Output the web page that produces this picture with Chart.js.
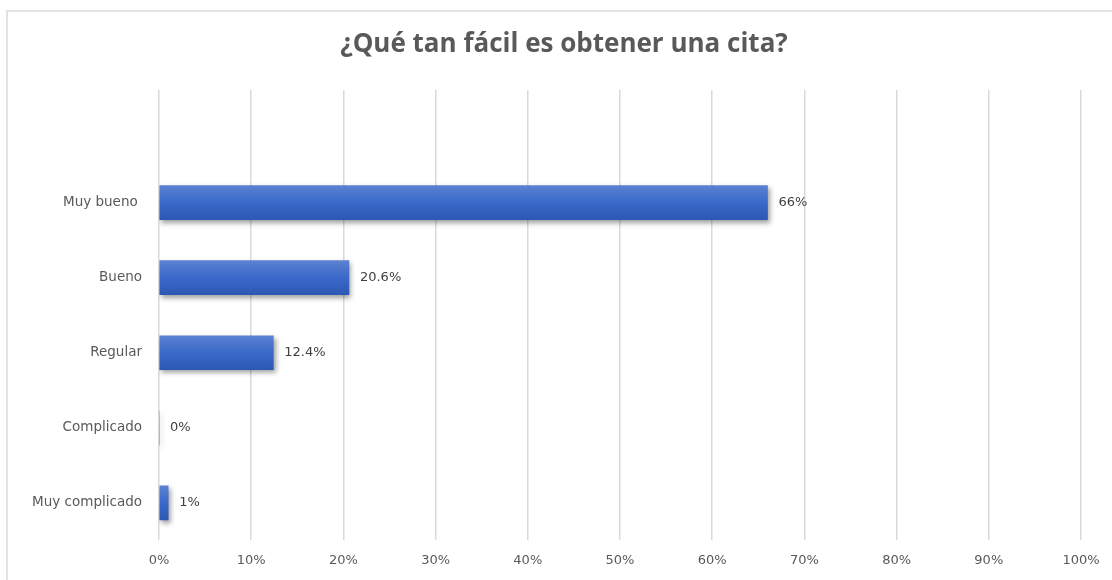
<!DOCTYPE html>
<html lang="es">
<head>
    <meta charset="UTF-8">
    <title>¿Qué tan fácil es obtener una cita?</title>
    <script src="https://cdn.jsdelivr.net/npm/chart.js"></script>
    <style>
        html, body { margin: 0; padding: 0; background: #fff; overflow: hidden; }
        .marco {
            position: absolute; left: 6px; top: 10px;
            width: 1200px; height: 700px;
            border: 2px solid #e3e3e3;
        }
        .chart-container { position: absolute; left: 0; top: 0; width: 1112px; height: 580px; }
    </style>
</head>
<body>

    <div class="marco"></div>
    <div class="chart-container">
        <canvas id="citaChart" width="1112" height="580"></canvas>
    </div>

    <script>
        // Respuestas de la encuesta (la primera fila queda vacía, como en la hoja)
        var categorias = ['', 'Muy bueno ', 'Bueno', 'Regular', 'Complicado', 'Muy complicado'];
        var porcentajes = [null, 66, 20.6, 12.4, 0, 1];
        var marcasEje = [0, 10, 20, 30, 40, 50, 60, 70, 80, 90, 100];
        var titulo = '¿Qué tan fácil es obtener una cita?';

        var GROSOR_BARRA = 34;

        // Degradado vertical de cada barra
        function colorBarra(context) {
            var chart = context.chart;
            var escalaY = chart.scales.y;
            if (!escalaY || !chart.chartArea) return '#3a68c8';
            var y = escalaY.getPixelForValue(context.dataIndex);
            var g = chart.ctx.createLinearGradient(0, y - GROSOR_BARRA / 2, 0, y + GROSOR_BARRA / 2);
            g.addColorStop(0, '#5b82d2');
            g.addColorStop(0.5, '#3a69c9');
            g.addColorStop(1, '#2c58b4');
            return g;
        }

        // Título centrado sobre la hoja
        var tituloGrafica = {
            id: 'tituloGrafica',
            afterDraw: function(chart) {
                var ctx = chart.ctx;
                ctx.save();
                ctx.font = 'bold 26px "Open Sans"';
                ctx.fillStyle = '#595959';
                ctx.textAlign = 'center';
                ctx.textBaseline = 'middle';
                ctx.fillText(titulo, 564, 45);
                ctx.restore();
            }
        };

        // Sombra bajo las barras
        var sombraBarras = {
            id: 'sombraBarras',
            beforeDatasetsDraw: function(chart) {
                var ctx = chart.ctx;
                ctx.save();
                ctx.shadowColor = 'rgba(0, 0, 0, 0.38)';
                ctx.shadowBlur = 5;
                ctx.shadowOffsetX = 2;
                ctx.shadowOffsetY = 3;
            },
            afterDatasetsDraw: function(chart) {
                chart.ctx.restore();
            }
        };

        // Etiquetas de valor al final de cada barra
        var etiquetasValor = {
            id: 'etiquetasValor',
            afterDatasetsDraw: function(chart) {
                var ctx = chart.ctx;
                var meta = chart.getDatasetMeta(0);
                ctx.save();
                ctx.font = '13px "DejaVu Sans"';
                ctx.fillStyle = '#404040';
                ctx.textAlign = 'left';
                ctx.textBaseline = 'middle';
                meta.data.forEach(function(barra, i) {
                    var v = porcentajes[i];
                    if (v === null) return;
                    ctx.fillText(v + '%', barra.x + 11, barra.y);
                });
                ctx.restore();
            }
        };

        var ctx = document.getElementById('citaChart').getContext('2d');
        var citaChart = new Chart(ctx, {
            type: 'bar',
            data: {
                labels: categorias,
                datasets: [{
                    data: porcentajes,
                    backgroundColor: colorBarra,
                    borderWidth: 0,
                    barThickness: GROSOR_BARRA
                }]
            },
            options: {
                indexAxis: 'y',
                responsive: false,
                animation: false,
                layout: { padding: { left: 0, right: 31, top: 90, bottom: 0 } },
                plugins: {
                    legend: { display: false },
                    tooltip: { enabled: false },
                    title: { display: false }
                },
                scales: {
                    x: {
                        min: 0,
                        max: 100,
                        afterBuildTicks: function(scale) {
                            scale.ticks = marcasEje.map(function(v) { return { value: v }; });
                        },
                        ticks: {
                            color: '#595959',
                            font: { family: '"DejaVu Sans"', size: 13 },
                            padding: 12,
                            maxRotation: 0,
                            callback: function(v) { return v + '%'; }
                        },
                        grid: { color: '#d9d9d9', lineWidth: 1.5, drawTicks: false },
                        border: { display: false }
                    },
                    y: {
                        afterFit: function(scale) { scale.width = 159; },
                        ticks: {
                            color: '#595959',
                            font: { family: '"DejaVu Sans"', size: 13.5 },
                            padding: 17
                        },
                        grid: { display: false, drawTicks: false },
                        border: { display: false }
                    }
                }
            },
            plugins: [tituloGrafica, sombraBarras, etiquetasValor]
        });
    </script>

</body>
</html>
